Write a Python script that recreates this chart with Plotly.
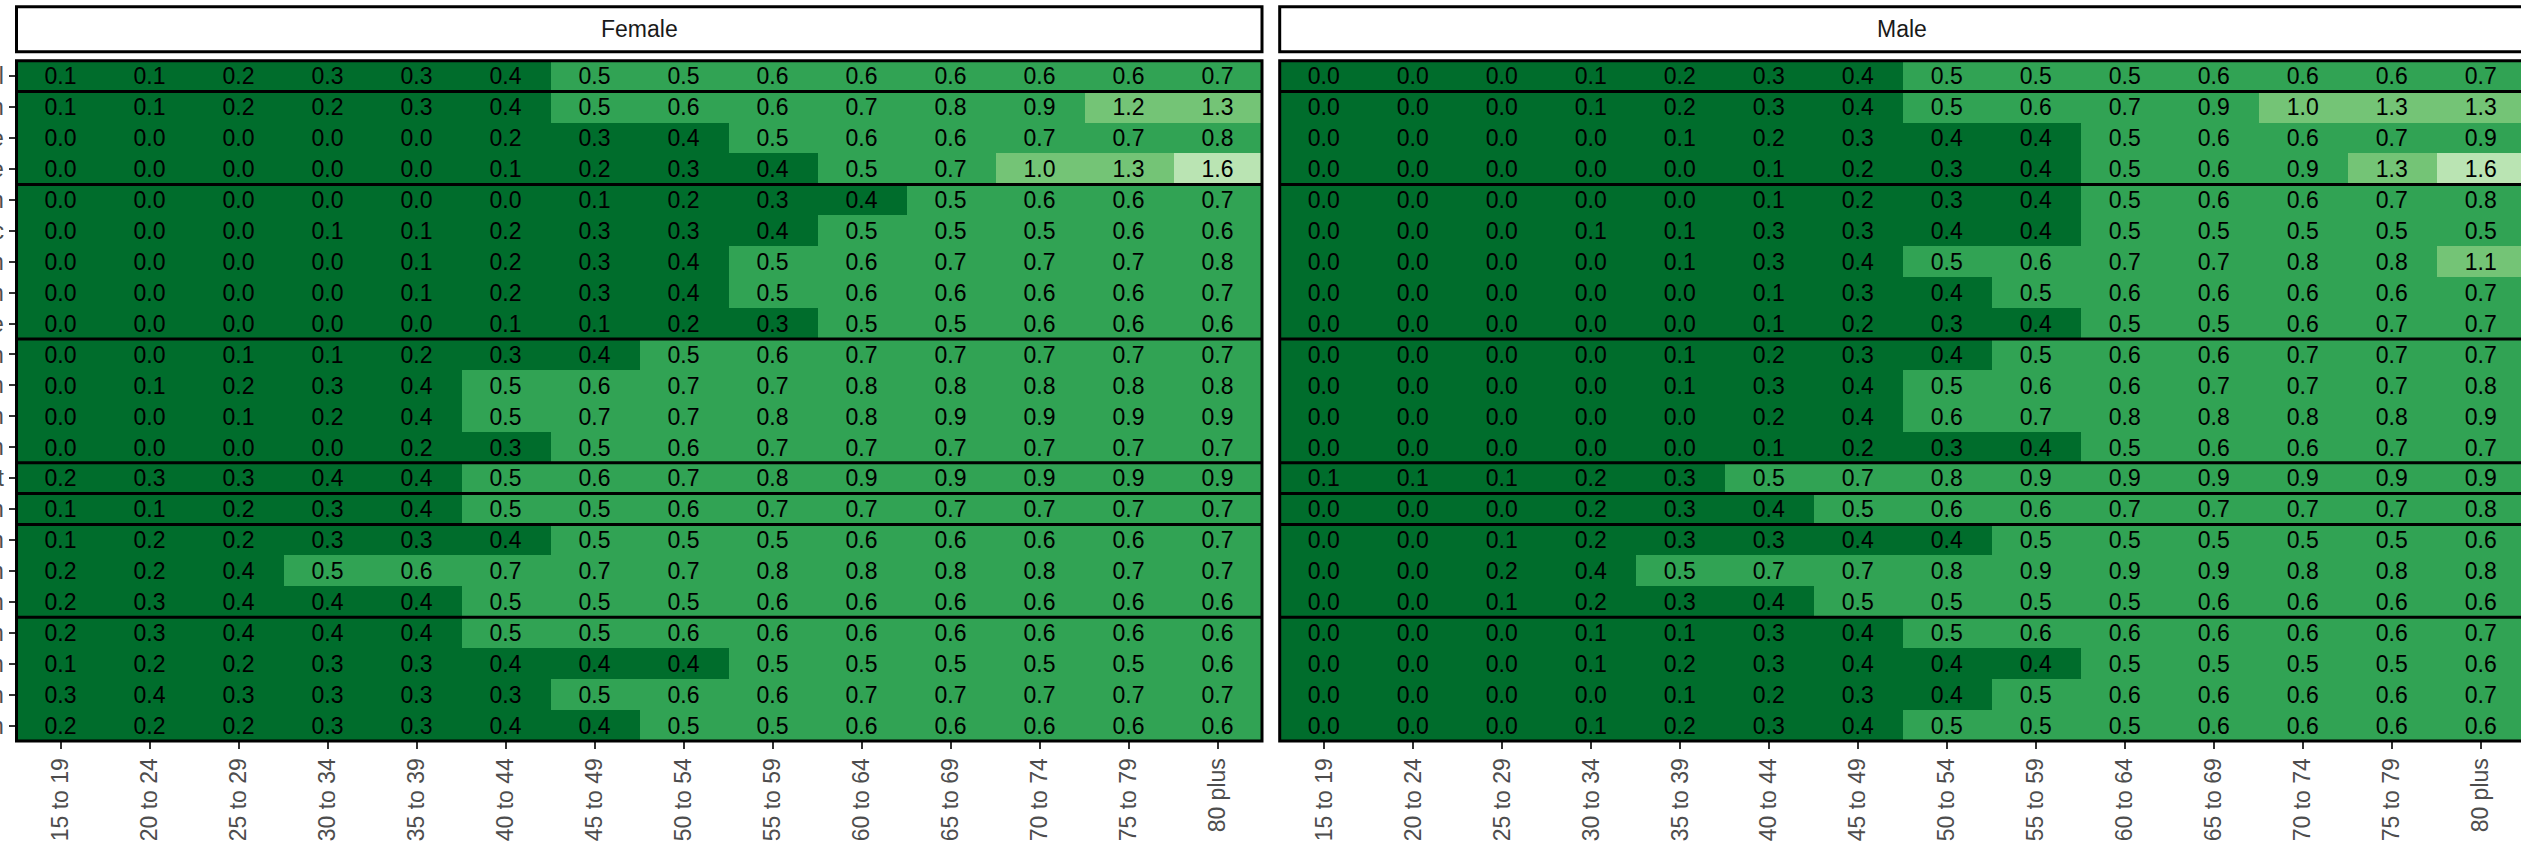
import numpy as np
import plotly.graph_objects as go

# ---------------- data ----------------
age_groups = ["15 to 19", "20 to 24", "25 to 29", "30 to 34", "35 to 39", "40 to 44",
              "45 to 49", "50 to 54", "55 to 59", "60 to 64", "65 to 69", "70 to 74",
              "75 to 79", "80 plus"]

area_labels = ["Total",
               "Capital Region", "Capital Inner Core", "Capital Outer Zone",
               "Northern Region", "Northern Pacific", "Northern Plain", "Northern Mountain", "Northern Zone",
               "Central Region", "Central Basin", "Central Plain", "Central Urban",
               "Eastern Coast",
               "Western Region",
               "Southern Region", "Southern Plain", "Southern Basin",
               "Island Region", "Island Capital Town", "Island Mountain", "Island Ocean"]

group_sizes = [1, 3, 5, 4, 1, 1, 3, 4]

sexes = ["Female", "Male"]

female = [
    [0.1, 0.1, 0.2, 0.3, 0.3, 0.4, 0.5, 0.5, 0.6, 0.6, 0.6, 0.6, 0.6, 0.7],
    [0.1, 0.1, 0.2, 0.2, 0.3, 0.4, 0.5, 0.6, 0.6, 0.7, 0.8, 0.9, 1.2, 1.3],
    [0.0, 0.0, 0.0, 0.0, 0.0, 0.2, 0.3, 0.4, 0.5, 0.6, 0.6, 0.7, 0.7, 0.8],
    [0.0, 0.0, 0.0, 0.0, 0.0, 0.1, 0.2, 0.3, 0.4, 0.5, 0.7, 1.0, 1.3, 1.6],
    [0.0, 0.0, 0.0, 0.0, 0.0, 0.0, 0.1, 0.2, 0.3, 0.4, 0.5, 0.6, 0.6, 0.7],
    [0.0, 0.0, 0.0, 0.1, 0.1, 0.2, 0.3, 0.3, 0.4, 0.5, 0.5, 0.5, 0.6, 0.6],
    [0.0, 0.0, 0.0, 0.0, 0.1, 0.2, 0.3, 0.4, 0.5, 0.6, 0.7, 0.7, 0.7, 0.8],
    [0.0, 0.0, 0.0, 0.0, 0.1, 0.2, 0.3, 0.4, 0.5, 0.6, 0.6, 0.6, 0.6, 0.7],
    [0.0, 0.0, 0.0, 0.0, 0.0, 0.1, 0.1, 0.2, 0.3, 0.5, 0.5, 0.6, 0.6, 0.6],
    [0.0, 0.0, 0.1, 0.1, 0.2, 0.3, 0.4, 0.5, 0.6, 0.7, 0.7, 0.7, 0.7, 0.7],
    [0.0, 0.1, 0.2, 0.3, 0.4, 0.5, 0.6, 0.7, 0.7, 0.8, 0.8, 0.8, 0.8, 0.8],
    [0.0, 0.0, 0.1, 0.2, 0.4, 0.5, 0.7, 0.7, 0.8, 0.8, 0.9, 0.9, 0.9, 0.9],
    [0.0, 0.0, 0.0, 0.0, 0.2, 0.3, 0.5, 0.6, 0.7, 0.7, 0.7, 0.7, 0.7, 0.7],
    [0.2, 0.3, 0.3, 0.4, 0.4, 0.5, 0.6, 0.7, 0.8, 0.9, 0.9, 0.9, 0.9, 0.9],
    [0.1, 0.1, 0.2, 0.3, 0.4, 0.5, 0.5, 0.6, 0.7, 0.7, 0.7, 0.7, 0.7, 0.7],
    [0.1, 0.2, 0.2, 0.3, 0.3, 0.4, 0.5, 0.5, 0.5, 0.6, 0.6, 0.6, 0.6, 0.7],
    [0.2, 0.2, 0.4, 0.5, 0.6, 0.7, 0.7, 0.7, 0.8, 0.8, 0.8, 0.8, 0.7, 0.7],
    [0.2, 0.3, 0.4, 0.4, 0.4, 0.5, 0.5, 0.5, 0.6, 0.6, 0.6, 0.6, 0.6, 0.6],
    [0.2, 0.3, 0.4, 0.4, 0.4, 0.5, 0.5, 0.6, 0.6, 0.6, 0.6, 0.6, 0.6, 0.6],
    [0.1, 0.2, 0.2, 0.3, 0.3, 0.4, 0.4, 0.4, 0.5, 0.5, 0.5, 0.5, 0.5, 0.6],
    [0.3, 0.4, 0.3, 0.3, 0.3, 0.3, 0.5, 0.6, 0.6, 0.7, 0.7, 0.7, 0.7, 0.7],
    [0.2, 0.2, 0.2, 0.3, 0.3, 0.4, 0.4, 0.5, 0.5, 0.6, 0.6, 0.6, 0.6, 0.6],
]

male = [
    [0.0, 0.0, 0.0, 0.1, 0.2, 0.3, 0.4, 0.5, 0.5, 0.5, 0.6, 0.6, 0.6, 0.7],
    [0.0, 0.0, 0.0, 0.1, 0.2, 0.3, 0.4, 0.5, 0.6, 0.7, 0.9, 1.0, 1.3, 1.3],
    [0.0, 0.0, 0.0, 0.0, 0.1, 0.2, 0.3, 0.4, 0.4, 0.5, 0.6, 0.6, 0.7, 0.9],
    [0.0, 0.0, 0.0, 0.0, 0.0, 0.1, 0.2, 0.3, 0.4, 0.5, 0.6, 0.9, 1.3, 1.6],
    [0.0, 0.0, 0.0, 0.0, 0.0, 0.1, 0.2, 0.3, 0.4, 0.5, 0.6, 0.6, 0.7, 0.8],
    [0.0, 0.0, 0.0, 0.1, 0.1, 0.3, 0.3, 0.4, 0.4, 0.5, 0.5, 0.5, 0.5, 0.5],
    [0.0, 0.0, 0.0, 0.0, 0.1, 0.3, 0.4, 0.5, 0.6, 0.7, 0.7, 0.8, 0.8, 1.1],
    [0.0, 0.0, 0.0, 0.0, 0.0, 0.1, 0.3, 0.4, 0.5, 0.6, 0.6, 0.6, 0.6, 0.7],
    [0.0, 0.0, 0.0, 0.0, 0.0, 0.1, 0.2, 0.3, 0.4, 0.5, 0.5, 0.6, 0.7, 0.7],
    [0.0, 0.0, 0.0, 0.0, 0.1, 0.2, 0.3, 0.4, 0.5, 0.6, 0.6, 0.7, 0.7, 0.7],
    [0.0, 0.0, 0.0, 0.0, 0.1, 0.3, 0.4, 0.5, 0.6, 0.6, 0.7, 0.7, 0.7, 0.8],
    [0.0, 0.0, 0.0, 0.0, 0.0, 0.2, 0.4, 0.6, 0.7, 0.8, 0.8, 0.8, 0.8, 0.9],
    [0.0, 0.0, 0.0, 0.0, 0.0, 0.1, 0.2, 0.3, 0.4, 0.5, 0.6, 0.6, 0.7, 0.7],
    [0.1, 0.1, 0.1, 0.2, 0.3, 0.5, 0.7, 0.8, 0.9, 0.9, 0.9, 0.9, 0.9, 0.9],
    [0.0, 0.0, 0.0, 0.2, 0.3, 0.4, 0.5, 0.6, 0.6, 0.7, 0.7, 0.7, 0.7, 0.8],
    [0.0, 0.0, 0.1, 0.2, 0.3, 0.3, 0.4, 0.4, 0.5, 0.5, 0.5, 0.5, 0.5, 0.6],
    [0.0, 0.0, 0.2, 0.4, 0.5, 0.7, 0.7, 0.8, 0.9, 0.9, 0.9, 0.8, 0.8, 0.8],
    [0.0, 0.0, 0.1, 0.2, 0.3, 0.4, 0.5, 0.5, 0.5, 0.5, 0.6, 0.6, 0.6, 0.6],
    [0.0, 0.0, 0.0, 0.1, 0.1, 0.3, 0.4, 0.5, 0.6, 0.6, 0.6, 0.6, 0.6, 0.7],
    [0.0, 0.0, 0.0, 0.1, 0.2, 0.3, 0.4, 0.4, 0.4, 0.5, 0.5, 0.5, 0.5, 0.6],
    [0.0, 0.0, 0.0, 0.0, 0.1, 0.2, 0.3, 0.4, 0.5, 0.6, 0.6, 0.6, 0.6, 0.7],
    [0.0, 0.0, 0.0, 0.1, 0.2, 0.3, 0.4, 0.5, 0.5, 0.5, 0.6, 0.6, 0.6, 0.6],
]

bin_colors = ["#006d2c", "#31a354", "#74c476", "#bae4b3"]  # [0,0.5) [0.5,1) [1,1.5) [1.5,..)

# ---------------- layout constants (pixels) ----------------
W, H = 2521, 844
FONT = "Liberation Sans, Arial, Helvetica, sans-serif"
panel_x = [(16.5, 1262.0), (1279.7, 2525.2)]
panel_top, panel_bot = 60.7, 741.0
strip_top, strip_bot = 6.7, 51.7

n_rows = len(area_labels)
n_cols = len(age_groups)


def px_x(v):
    return v / W


def px_y(v):
    return 1 - v / H


def bins(vals):
    tenths = np.round(np.asarray(vals) * 10).astype(int)
    return np.clip(tenths // 5, 0, len(bin_colors) - 1)


k = len(bin_colors)
colorscale = []
for i, c in enumerate(bin_colors):
    colorscale.append([i / k, c])
    colorscale.append([(i + 1) / k, c])

fig = go.Figure()
shapes = []
annotations = []

for idx, (sex, vals) in enumerate(zip(sexes, [female, male])):
    xa = "x" if idx == 0 else "x2"
    ya = "y" if idx == 0 else "y2"
    arr = np.asarray(vals)
    fig.add_trace(go.Heatmap(
        z=bins(arr),
        x=list(range(n_cols)),
        y=list(range(n_rows)),
        text=[[f"{v:.1f}" for v in row] for row in arr],
        texttemplate="%{text}",
        textfont=dict(family=FONT, size=23, color="black"),
        colorscale=colorscale, zmin=0, zmax=k,
        showscale=False, hoverinfo="skip",
        xaxis=xa, yaxis=ya,
    ))

    x0p, x1p = panel_x[idx]
    cell = (x1p - x0p) / n_cols
    dom_right = min(x1p, W)
    x_range = [-0.5, -0.5 + (dom_right - x0p) / cell]

    xkey = "xaxis" if idx == 0 else "xaxis2"
    ykey = "yaxis" if idx == 0 else "yaxis2"
    fig.layout[xkey] = dict(
        domain=[px_x(x0p), px_x(dom_right)], range=x_range,
        tickmode="array", tickvals=list(range(n_cols)), ticktext=age_groups,
        tickangle=-90, ticks="outside", ticklen=7, tickwidth=2, tickcolor="#333333",
        tickfont=dict(family=FONT, size=23, color="#4d4d4d"),
        showgrid=False, zeroline=False, showline=False, anchor=ya,
        automargin=False, fixedrange=True,
    )
    fig.layout[ykey] = dict(
        domain=[px_y(panel_bot), px_y(panel_top)], range=[n_rows - 0.5, -0.5],
        tickmode="array", tickvals=list(range(n_rows)),
        ticktext=area_labels if idx == 0 else [""] * n_rows,
        ticks="outside" if idx == 0 else "", ticklen=7, tickwidth=2, tickcolor="#333333",
        tickfont=dict(family=FONT, size=23, color="#4d4d4d"),
        showgrid=False, zeroline=False, showline=False, anchor=xa,
        automargin=False, fixedrange=True, showticklabels=(idx == 0),
    )

    # group separators (facet rows)
    bounds = np.cumsum(group_sizes)[:-1]
    for b in bounds:
        shapes.append(dict(type="line", xref="paper", yref=ya,
                           x0=px_x(x0p), x1=px_x(x1p), y0=b - 0.5, y1=b - 0.5,
                           line=dict(color="black", width=3), layer="above"))
    # panel border
    shapes.append(dict(type="rect", xref="paper", yref="paper",
                       x0=px_x(x0p), x1=px_x(x1p), y0=px_y(panel_bot), y1=px_y(panel_top),
                       line=dict(color="black", width=3), fillcolor="rgba(0,0,0,0)", layer="above"))
    # strip
    shapes.append(dict(type="rect", xref="paper", yref="paper",
                       x0=px_x(x0p), x1=px_x(x1p), y0=px_y(strip_bot), y1=px_y(strip_top),
                       line=dict(color="black", width=3), fillcolor="white", layer="above"))
    annotations.append(dict(x=px_x((x0p + x1p) / 2), y=px_y((strip_top + strip_bot) / 2),
                            xref="paper", yref="paper", text=sex, showarrow=False,
                            xanchor="center", yanchor="middle",
                            font=dict(family=FONT, size=23, color="#1a1a1a")))

fig.update_layout(
    width=W, height=H,
    margin=dict(l=0, r=0, t=0, b=0, pad=0),
    paper_bgcolor="white", plot_bgcolor="white",
    shapes=shapes, annotations=annotations,
    showlegend=False,
)

fig.write_html("out.html", config={"displayModeBar": False},
               post_script="document.body.style.margin='0';")
